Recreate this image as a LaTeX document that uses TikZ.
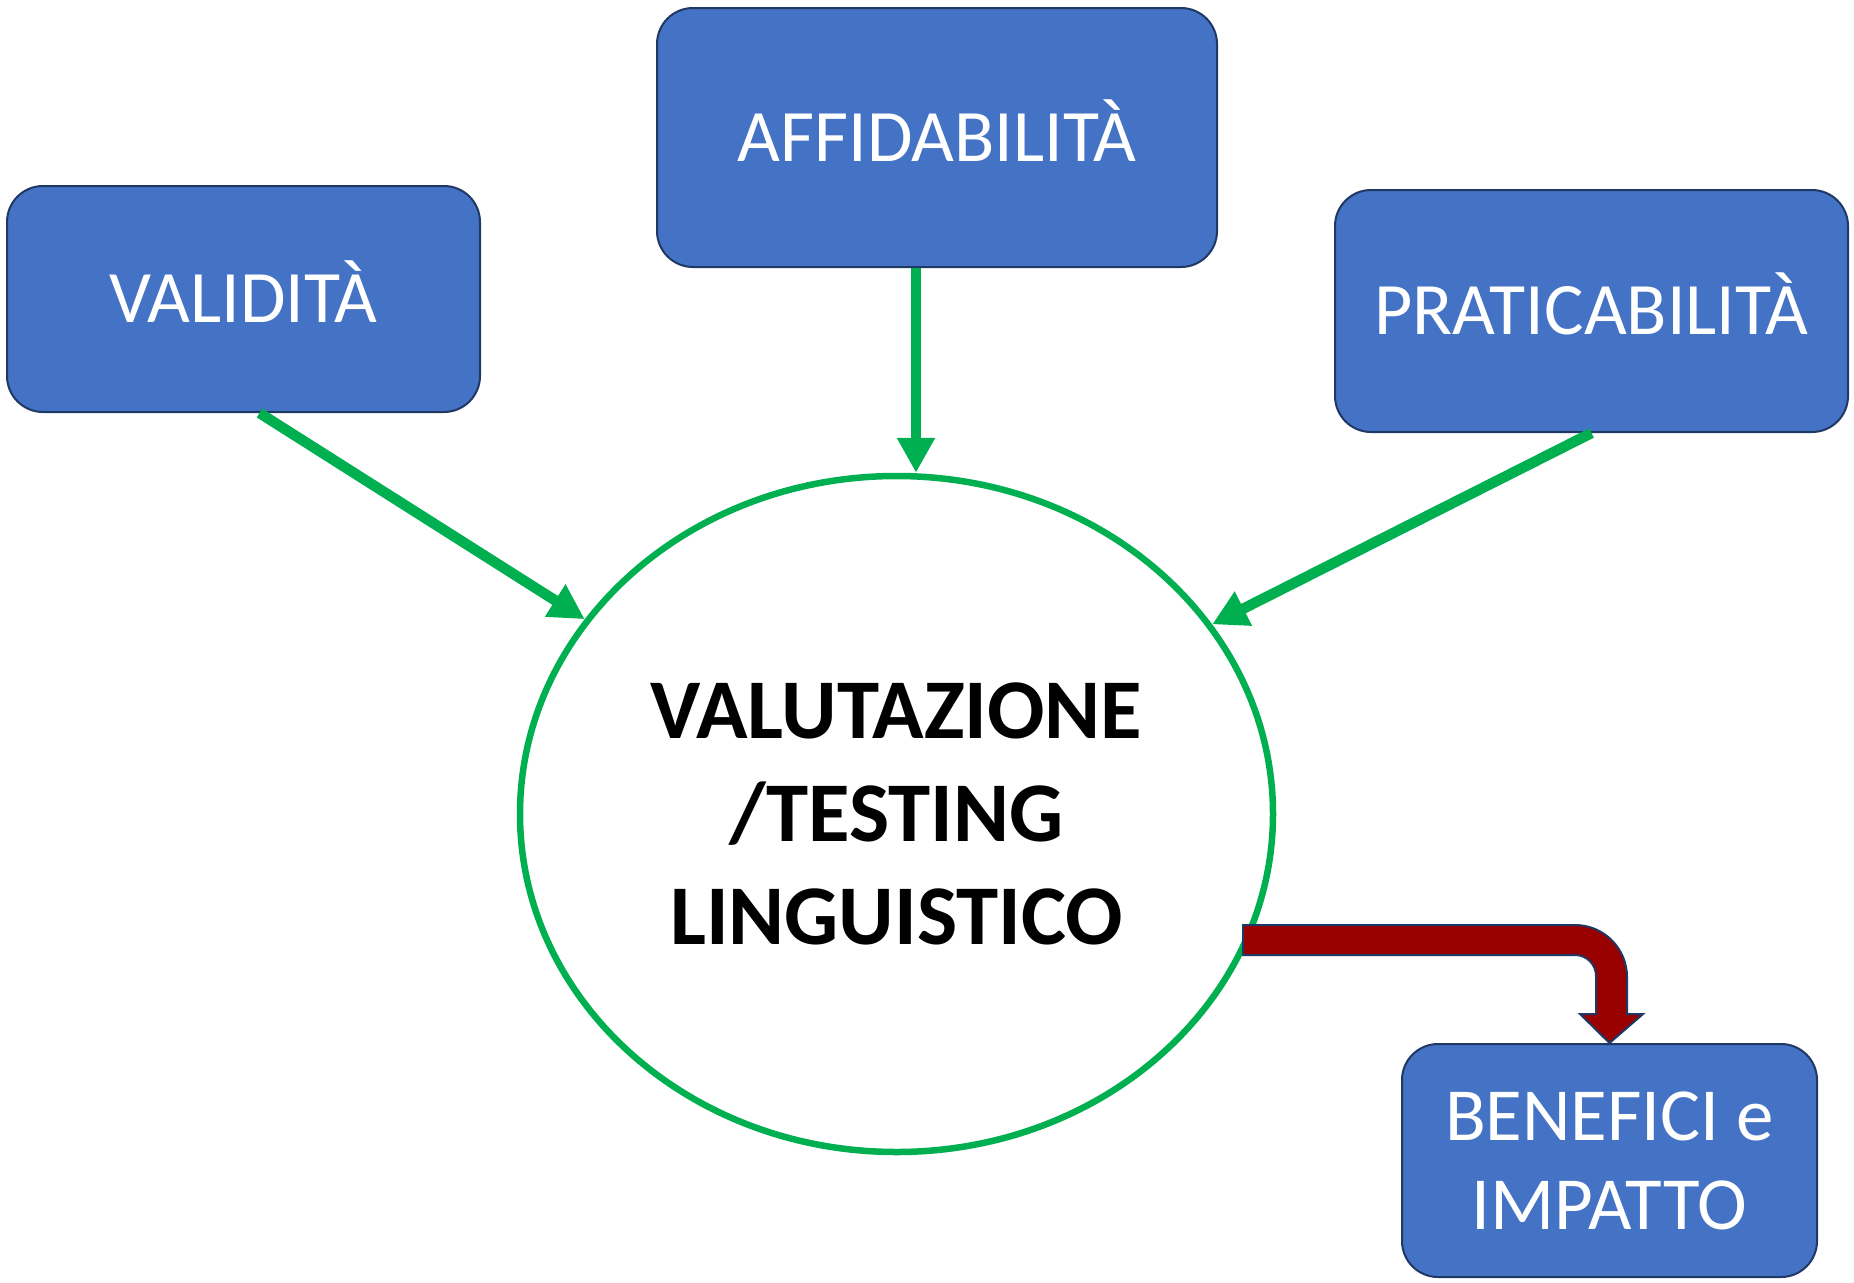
\documentclass[tikz,border=0pt]{standalone}
\usepackage{fontspec}
\setmainfont{Carlito}
\usetikzlibrary{shapes.geometric,arrows.meta,calc}
\definecolor{boxblue}{HTML}{4472C4}
\definecolor{boxline}{HTML}{1F3864}
\definecolor{arrgreen}{HTML}{00B050}
\definecolor{darkred}{HTML}{990000}
\begin{document}
\begin{tikzpicture}[x=1pt,y=-1pt,
  box/.style={draw=boxline, line width=2pt, fill=boxblue, rounded corners=36pt,
    text=white, inner sep=0pt, font=\fontsize{74}{89}\selectfont, align=center},
  oneline/.style={text height=47pt, text depth=0pt},
  garrow/.style={draw=arrgreen, line width=10.5pt, -{Triangle[length=35pt,width=36pt]}},
  bigarrow/.style={draw=boxline, line width=2pt, fill=darkred, line join=miter},
]
\useasboundingbox (0,0) rectangle (1854,1282);

\node[box, oneline, minimum width=473pt, minimum height=226pt] (val) at (243.5,299) {VALIDITÀ};
\node[box, oneline, minimum width=560pt, minimum height=259pt] (aff) at (937,137.5) {AFFIDABILITÀ};
\node[box, oneline, minimum width=513pt, minimum height=242pt] (pra) at (1591.5,311) {PRATICABILITÀ};
\node[box, font=\fontsize{75}{89}\selectfont, minimum width=415pt, minimum height=233pt] (ben) at (1609.5,1160.5) {BENEFICI e\\IMPATTO};

\node[ellipse, draw=arrgreen, line width=6.5pt, fill=white, minimum width=753pt, minimum height=676pt,
  inner sep=0pt, align=center, text depth=-7pt, font=\fontsize{85}{103}\selectfont\bfseries] (e) at (896.5,814)
  {VALUTAZIONE\\/TESTING\\LINGUISTICO};

\draw[garrow] ([xshift=16pt]val.south) -- (e.148);
\draw[garrow] ([xshift=-21pt]aff.south) -- ([xshift=-21pt]aff.south |- e.north);
\draw[garrow] (pra.south) -- (e.31.6);

\coordinate (rs) at (1243,925);
\draw[bigarrow] (rs) -- (1575,925) arc[start angle=-90, end angle=0, radius=52]
  -- (1627,1014) -- (1643,1014) -- (ben.north) -- (1580,1014) -- (1596,1014)
  -- (1596,976) arc[start angle=0, end angle=-90, radius=21]
  -- (1243,955) -- cycle;
\end{tikzpicture}
\end{document}
